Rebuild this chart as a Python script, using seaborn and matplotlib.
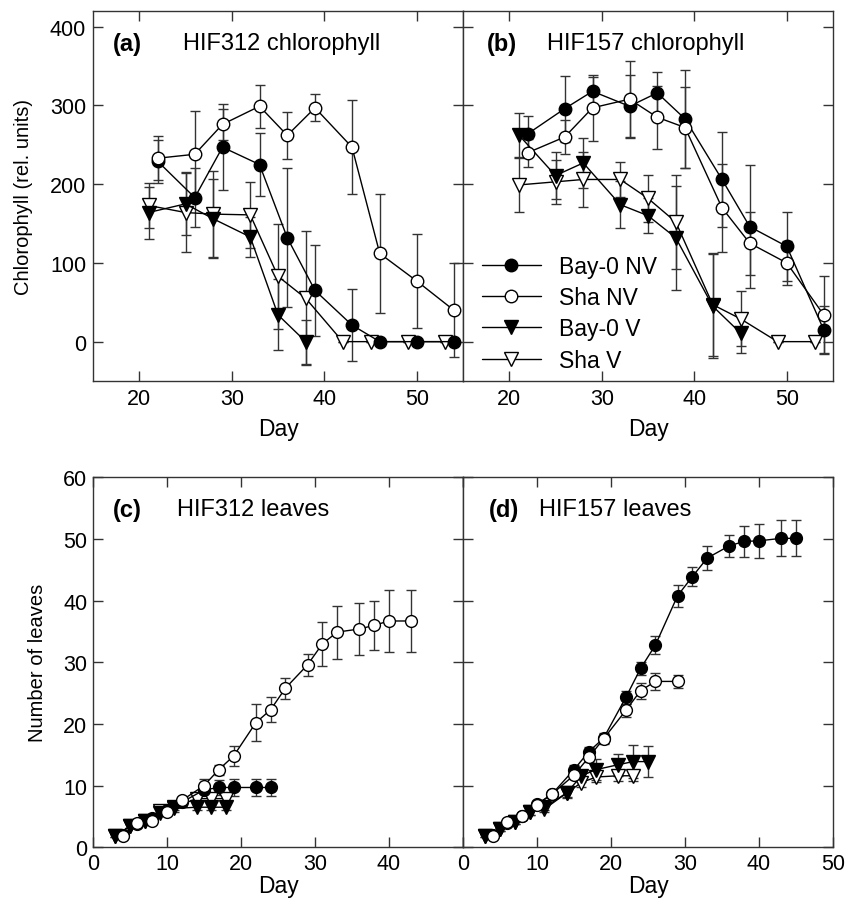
import numpy as np
import pandas as pd
import matplotlib
matplotlib.use("Agg")
import matplotlib.pyplot as plt
import seaborn as sns

# ---- data ----
series_names = ["Bay-0 NV", "Sha NV", "Bay-0 V", "Sha V"]

# (a) HIF312 chlorophyll
a_nv_day = [22, 26, 29, 33, 36, 39, 43, 46, 50, 54]
a_bay_nv = [229, 183, 247, 225, 132, 65, 21, 0, 0, 0]
a_bay_nv_err = [27, 38, 55, 40, 88, 58, 46, 0, 0, 0]
a_sha_nv = [233, 238, 276, 299, 262, 297, 247, 112, 77, 40]
a_sha_nv_err = [28, 55, 20, 27, 30, 17, 60, 75, 60, 60]
a_bay_v_day = [21, 25, 28, 32, 35, 38]
a_bay_v = [164, 175, 156, 133, 34, 0]
a_bay_v_err = [33, 40, 50, 25, 45, 28]
a_sha_v_day = [21, 25, 28, 32, 35, 38, 42, 45, 49, 53]
a_sha_v = [173, 164, 162, 161, 83, 55, 0, 0, 0, 0]
a_sha_v_err = [29, 50, 55, 42, 67, 85, 0, 0, 0, 0]

# (b) HIF157 chlorophyll
b_nv_day = [22, 26, 29, 33, 36, 39, 43, 46, 50, 54]
b_bay_nv = [264, 296, 318, 299, 316, 283, 206, 146, 121, 15]
b_bay_nv_err = [22, 42, 18, 40, 26, 62, 60, 78, 44, 30]
b_sha_nv = [240, 260, 297, 308, 285, 272, 170, 125, 100, 34]
b_sha_nv_err = [18, 22, 42, 48, 40, 52, 56, 40, 28, 50]
b_bay_v_day = [21, 25, 28, 32, 35, 38, 42, 45]
b_bay_v = [263, 211, 227, 174, 160, 132, 45, 11]
b_bay_v_err = [28, 30, 32, 30, 22, 66, 66, 26]
b_sha_v_day = [21, 25, 28, 32, 35, 38, 42, 45, 49, 53]
b_sha_v = [199, 203, 206, 206, 182, 152, 47, 29, 0, 0]
b_sha_v_err = [34, 28, 35, 22, 30, 60, 65, 35, 0, 0]

# (c) HIF312 leaves
c_bay_nv_day = [4, 6, 8, 10, 12, 15, 17, 19, 22, 24]
c_bay_nv = [2.0, 3.8, 4.8, 6.0, 7.3, 9.3, 9.7, 9.7, 9.7, 9.7]
c_bay_nv_err = [0.3, 0.4, 0.5, 0.5, 0.6, 0.8, 1.2, 1.3, 1.3, 1.3]
c_sha_nv_day = [4, 6, 8, 10, 12, 15, 17, 19, 22, 24, 26, 29, 31, 33, 36, 38, 40, 43]
c_sha_nv = [1.9, 3.9, 4.3, 5.8, 7.6, 10.0, 12.6, 14.8, 20.2, 22.3, 25.8, 29.6,
            33.0, 34.9, 35.4, 36.0, 36.7, 36.7]
c_sha_nv_err = [0.3, 0.4, 0.5, 0.5, 0.6, 1.0, 0.8, 1.6, 3.0, 2.0, 1.7, 1.8,
                3.6, 4.3, 4.2, 4.0, 5.0, 5.0]
c_v_day = [3, 5, 7, 9, 11, 14, 16, 18]
c_bay_v = [1.9, 3.4, 4.3, 5.6, 6.3, 6.5, 6.5, 6.5]
c_bay_v_err = [0.3, 0.3, 0.4, 0.4, 0.5, 0.5, 0.5, 0.5]
c_sha_v = [1.9, 3.4, 4.3, 5.9, 6.5, 7.9, 7.9, 7.9]
c_sha_v_err = [0.3, 0.3, 0.4, 0.4, 0.5, 0.6, 0.6, 0.6]

# (d) HIF157 leaves
d_bay_nv_day = [4, 6, 8, 10, 12, 15, 17, 19, 22, 24, 26, 29, 31, 33, 36, 38, 40, 43, 45]
d_bay_nv = [2.0, 4.0, 5.0, 7.0, 8.6, 12.6, 15.5, 17.7, 24.3, 29.0, 32.8, 40.8,
            43.9, 46.9, 48.9, 49.6, 49.7, 50.1, 50.1]
d_bay_nv_err = [0.3, 0.4, 0.5, 0.5, 0.6, 0.7, 0.8, 0.8, 1.0, 1.0, 1.5, 1.8,
                1.6, 2.0, 1.8, 2.5, 2.8, 2.9, 2.9]
d_sha_nv_day = [4, 6, 8, 10, 12, 15, 17, 19, 22, 24, 26, 29]
d_sha_nv = [1.9, 4.1, 5.1, 6.9, 8.6, 11.7, 14.6, 17.6, 22.2, 25.4, 26.9, 26.9]
d_sha_nv_err = [0.3, 0.4, 0.5, 0.5, 0.6, 0.7, 0.8, 0.8, 1.0, 1.3, 1.4, 1.1]
d_bay_v_day = [3, 5, 7, 9, 11, 14, 16, 18, 21, 23, 25]
d_bay_v = [1.9, 2.9, 4.1, 5.8, 6.5, 8.8, 11.6, 12.6, 13.4, 13.9, 13.9]
d_bay_v_err = [0.3, 0.3, 0.4, 0.5, 0.5, 0.8, 1.0, 1.7, 1.8, 2.7, 2.5]
d_sha_v_day = [3, 5, 7, 9, 11, 14, 16, 18, 21, 23]
d_sha_v = [1.9, 2.9, 4.1, 5.8, 6.2, 8.8, 10.5, 11.4, 11.6, 11.6]
d_sha_v_err = [0.3, 0.3, 0.4, 0.5, 0.5, 0.6, 0.7, 0.8, 0.8, 0.8]


def make_df(parts):
    frames = []
    for name, day, val, err in parts:
        frames.append(pd.DataFrame({"series": name, "day": day, "value": val, "err": err}))
    return pd.concat(frames, ignore_index=True)


panels = {
    "a": make_df([("Sha V", a_sha_v_day, a_sha_v, a_sha_v_err),
                  ("Bay-0 V", a_bay_v_day, a_bay_v, a_bay_v_err),
                  ("Bay-0 NV", a_nv_day, a_bay_nv, a_bay_nv_err),
                  ("Sha NV", a_nv_day, a_sha_nv, a_sha_nv_err)]),
    "b": make_df([("Sha V", b_sha_v_day, b_sha_v, b_sha_v_err),
                  ("Bay-0 V", b_bay_v_day, b_bay_v, b_bay_v_err),
                  ("Bay-0 NV", b_nv_day, b_bay_nv, b_bay_nv_err),
                  ("Sha NV", b_nv_day, b_sha_nv, b_sha_nv_err)]),
    "c": make_df([("Sha V", c_v_day, c_sha_v, c_sha_v_err),
                  ("Bay-0 V", c_v_day, c_bay_v, c_bay_v_err),
                  ("Bay-0 NV", c_bay_nv_day, c_bay_nv, c_bay_nv_err),
                  ("Sha NV", c_sha_nv_day, c_sha_nv, c_sha_nv_err)]),
    "d": make_df([("Sha V", d_sha_v_day, d_sha_v, d_sha_v_err),
                  ("Bay-0 V", d_bay_v_day, d_bay_v, d_bay_v_err),
                  ("Bay-0 NV", d_bay_nv_day, d_bay_nv, d_bay_nv_err),
                  ("Sha NV", d_sha_nv_day, d_sha_nv, d_sha_nv_err)]),
}

styles = {
    "Bay-0 NV": dict(marker="o", markerfacecolor="black"),
    "Sha NV": dict(marker="o", markerfacecolor="white"),
    "Bay-0 V": dict(marker="v", markerfacecolor="black"),
    "Sha V": dict(marker="v", markerfacecolor="white"),
}

sns.set_theme(style="ticks")
plt.rcParams["font.family"] = ["Liberation Sans", "DejaVu Sans"]
plt.rcParams["axes.edgecolor"] = "#333333"
plt.rcParams["axes.linewidth"] = 1.0
plt.rcParams["text.color"] = "black"
plt.rcParams["axes.labelcolor"] = "black"
plt.rcParams["xtick.labelcolor"] = "black"
plt.rcParams["ytick.labelcolor"] = "black"

fig = plt.figure(figsize=(8.47, 9.04), dpi=100)
W, H = 847, 904
ax_left_x = 93 / W
ax_w = 370 / W
ax_right_x = 463 / W
ax_h = 370 / H
top_y = 1 - 382 / H
bot_y = 1 - 848.3 / H

ax_a = fig.add_axes([ax_left_x, top_y, ax_w, ax_h])
ax_b = fig.add_axes([ax_right_x, top_y, ax_w, ax_h])
ax_c = fig.add_axes([ax_left_x, bot_y, ax_w, ax_h])
ax_d = fig.add_axes([ax_right_x, bot_y, ax_w, ax_h])
axes = {"a": ax_a, "b": ax_b, "c": ax_c, "d": ax_d}

titles = {"a": ("(a)", "HIF312 chlorophyll", 0.054, 0.243),
          "b": ("(b)", "HIF157 chlorophyll", 0.065, 0.227),
          "c": ("(c)", "HIF312 leaves", 0.054, 0.227),
          "d": ("(d)", "HIF157 leaves", 0.070, 0.205)}

for key, ax in axes.items():
    df = panels[key]
    top = key in ("a", "b")
    ms = 9 if top else 8.5
    for name in df["series"].unique():
        sub = df[df["series"] == name]
        ax.errorbar(sub["day"], sub["value"], yerr=sub["err"], fmt="none",
                    ecolor="#333333", elinewidth=1, capsize=3.5, capthick=1, zorder=2)
        tri = styles[name]["marker"] == "v"
        sns.lineplot(data=sub, x="day", y="value", ax=ax, color="black", lw=1,
                     markersize=ms + (1 if tri else 0), markeredgecolor="black",
                     markeredgewidth=1, label=name, legend=False, zorder=3,
                     **styles[name])
    ax.set_xlabel("Day", fontsize=16.5, labelpad=6 if top else 0)
    ax.set_ylabel("")
    ax.tick_params(direction="in", top=True, right=True, length=7, width=1,
                   color="#333333", labelsize=15.5, pad=5 if top else 4)
    lab, txt, x1, x2 = titles[key]
    ax.text(x1, 0.913, lab, transform=ax.transAxes, fontsize=17,
            fontweight="bold", va="center")
    ax.text(x2, 0.913, txt, transform=ax.transAxes, fontsize=17, va="center")

for ax in (ax_a, ax_b):
    ax.set_xlim(15, 55)
    ax.set_ylim(-50, 420)
    ax.set_xticks([20, 30, 40, 50])
    ax.set_yticks([0, 100, 200, 300, 400])
for ax in (ax_c, ax_d):
    ax.set_xlim(0, 50)
    ax.set_ylim(0, 60)
    ax.set_xticks([0, 10, 20, 30, 40, 50])
    ax.set_yticks([0, 10, 20, 30, 40, 50, 60])

ax_c.set_xticklabels(["0", "10", "20", "30", "40", ""])
ax_b.set_yticklabels([])
ax_d.set_yticklabels([])
ax_a.set_ylabel("Chlorophyll (rel. units)", fontsize=14.5, labelpad=12)
ax_c.set_ylabel("Number of leaves", fontsize=14.5, labelpad=12)

handles, labels = ax_b.get_legend_handles_labels()
order = [labels.index(n) for n in series_names]
ax_b.legend([handles[i] for i in order], series_names, loc="lower left",
            bbox_to_anchor=(0.05, 0.025), frameon=False, fontsize=16.5,
            handlelength=2.6, handletextpad=0.8, labelspacing=0.36,
            borderpad=0, borderaxespad=0)

fig.savefig("out.png", dpi=100)
